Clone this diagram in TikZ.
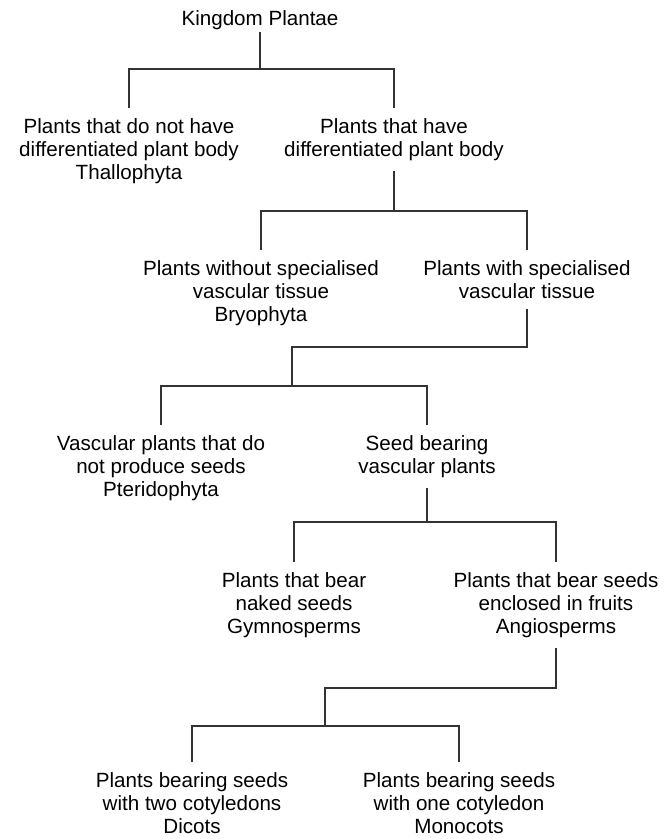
\documentclass[tikz,border=0pt]{standalone}
\usepackage{fontspec}
\setmainfont{Liberation Sans}
\usetikzlibrary{positioning}

\begin{document}
\begin{tikzpicture}[
    x=1pt, y=-1pt,
    font=\fontsize{20.6}{23}\selectfont,
    taxonBox/.style={
        align=center, inner xsep=0pt, inner ysep=10pt, anchor=north
    },
    rootBox/.style={
        inner xsep=0pt, inner ysep=3pt, anchor=base
    },
    link/.style={
        draw=black!80, line width=1.2pt
    }
]
\useasboundingbox (0,0) rectangle (665,839);

% Top: Kingdom
\node[rootBox] (root) at (260,25) {Kingdom Plantae};

% Level 1
\node[taxonBox] (thallo) at (129,108) {Plants that do not have\\differentiated plant body\\Thallophyta};
\node[taxonBox] (diff) at (394,108) {Plants that have\\differentiated plant body};

% Level 2
\node[taxonBox] (bryo) at (261,250) {Plants without specialised\\vascular tissue\\Bryophyta};
\node[taxonBox] (vasc) at (527,250) {Plants with specialised\\vascular tissue};

% Level 3
\node[taxonBox] (pterido) at (161,425) {Vascular plants that do\\not produce seeds\\Pteridophyta};
\node[taxonBox] (seed) at (427,425) {Seed bearing\\vascular plants};

% Level 4
\node[taxonBox] (gymno) at (294,562) {Plants that bear\\naked seeds\\Gymnosperms};
\node[taxonBox] (angio) at (556,562) {Plants that bear seeds\\enclosed in fruits\\Angiosperms};

% Level 5
\node[taxonBox] (dicots) at (192,762) {Plants bearing seeds\\with two cotyledons\\Dicots};
\node[taxonBox] (monocots) at (459,762) {Plants bearing seeds\\with one cotyledon\\Monocots};

% Forks
\coordinate (f1) at (260,69);
\coordinate (f2) at (394,211);
\coordinate (f3a) at (292,347);
\coordinate (f3) at (292,386);
\coordinate (f4) at (427,522);
\coordinate (f5a) at (325,688);
\coordinate (f5) at (325,726);

% Links
\draw[link] (root) -- (f1);
\draw[link] (thallo) |- (f1) -| (diff);
\draw[link] (diff) -- (f2);
\draw[link] (bryo) |- (f2) -| (vasc);
\draw[link] (vasc) |- (f3a) -- (f3);
\draw[link] (pterido) |- (f3) -| (seed);
\draw[link] (seed) -- (f4);
\draw[link] (gymno) |- (f4) -| (angio);
\draw[link] (angio) |- (f5a) -- (f5);
\draw[link] (dicots) |- (f5) -| (monocots);

\end{tikzpicture}
\end{document}
